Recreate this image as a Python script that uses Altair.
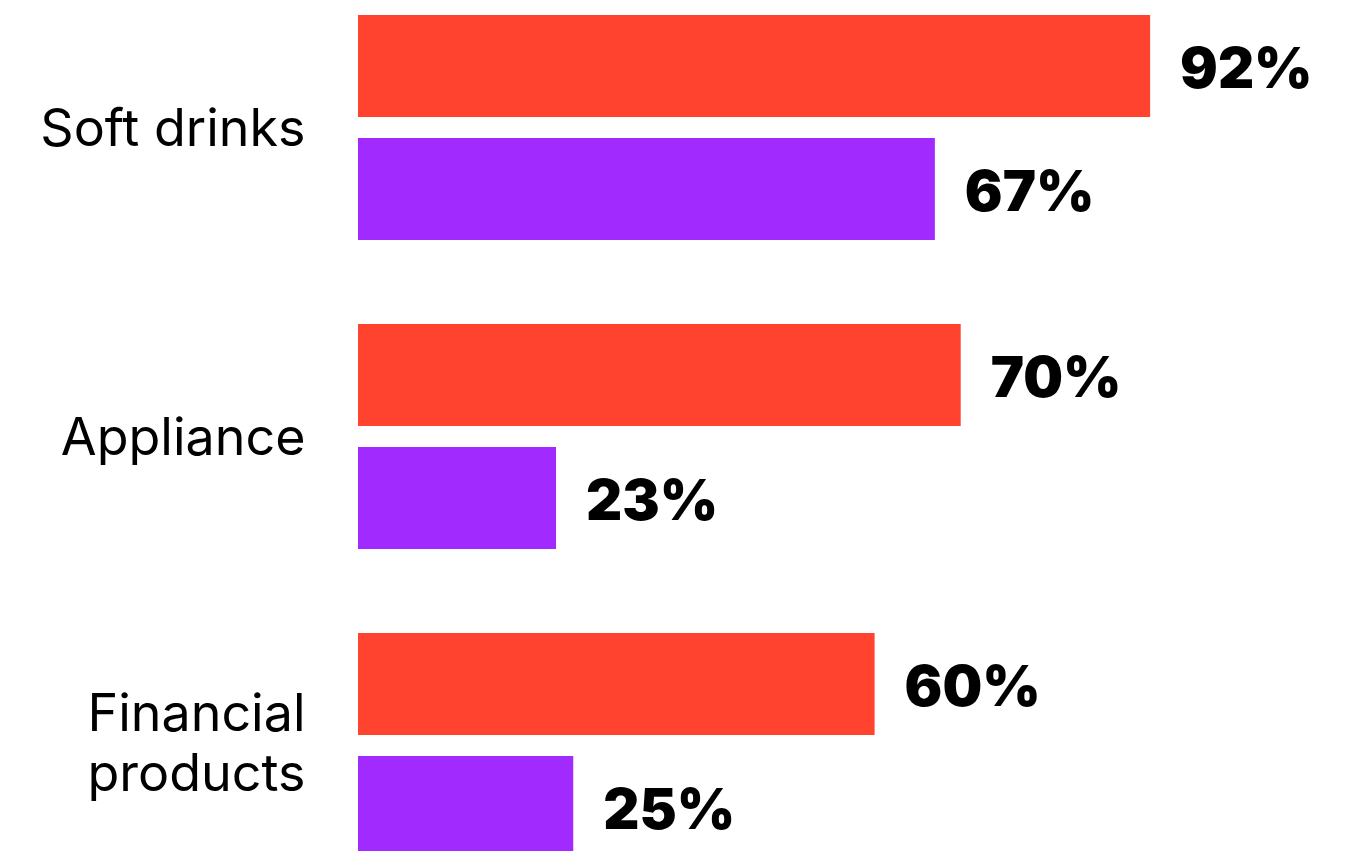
import altair as alt
import pandas as pd

# Share of respondents per product category, two survey groups
categories = ["Soft drinks", "Appliance", "Financial\nproducts"]
groups = ["Group A", "Group B"]
group_a = [92, 70, 60]
group_b = [67, 23, 25]
colors = ["#FF432E", "#A12AFF"]

rows = []
for cat, a, b in zip(categories, group_a, group_b):
    rows.append({"category": cat, "group": groups[0], "value": a})
    rows.append({"category": cat, "group": groups[1], "value": b})
df = pd.DataFrame(rows)
df["label"] = df["value"].astype(str) + "%"

y_enc = alt.Y(
    "category:N",
    sort=categories,
    scale=alt.Scale(paddingInner=84 / 309, paddingOuter=0),
    axis=alt.Axis(
        title=None,
        domain=False,
        ticks=False,
        grid=False,
        labelPadding=53,
        labelFont="Inter",
        labelFontSize=52,
        labelFontWeight=400,
        labelColor="#000000",
        labelLineHeight=60,
        labelExpr="split(datum.label, '\\n')",
        # two-line labels are lifted so the block sits centred on its group
        labelOffset=alt.condition(
            "indexof(datum.value, '\\n') >= 0", alt.value(-31), alt.value(2)
        ),
        labelLimit=400,
    ),
)
y_off = alt.YOffset(
    "group:N",
    sort=groups,
    scale=alt.Scale(paddingInner=21 / 123, paddingOuter=0),
)
x_enc = alt.X(
    "value:Q",
    scale=alt.Scale(domain=[0, 100], nice=False),
    axis=None,
)

bars = alt.Chart(df).mark_bar(size=102).encode(
    x=x_enc,
    y=y_enc,
    yOffset=y_off,
    color=alt.Color("group:N", sort=groups,
                    scale=alt.Scale(domain=groups, range=colors), legend=None),
)

labels = alt.Chart(df).mark_text(
    align="left",
    baseline="middle",
    dx=30,
    dy=5,
    font="Inter",
    fontSize=56,
    fontWeight=900,
    color="#000000",
).encode(
    x=x_enc,
    y=y_enc,
    yOffset=y_off,
    text="label:N",
)

chart = (
    alt.layer(bars, labels)
    .properties(
        width=861,
        height=843,
        background="#ffffff",
        autosize=alt.AutoSizeParams(type="none"),
        padding={"left": 358, "top": 15, "right": 128, "bottom": 0},
    )
    .configure_view(strokeWidth=0, stroke=None)
)

chart.save("out.html", embed_options={"renderer": "svg", "actions": False})
